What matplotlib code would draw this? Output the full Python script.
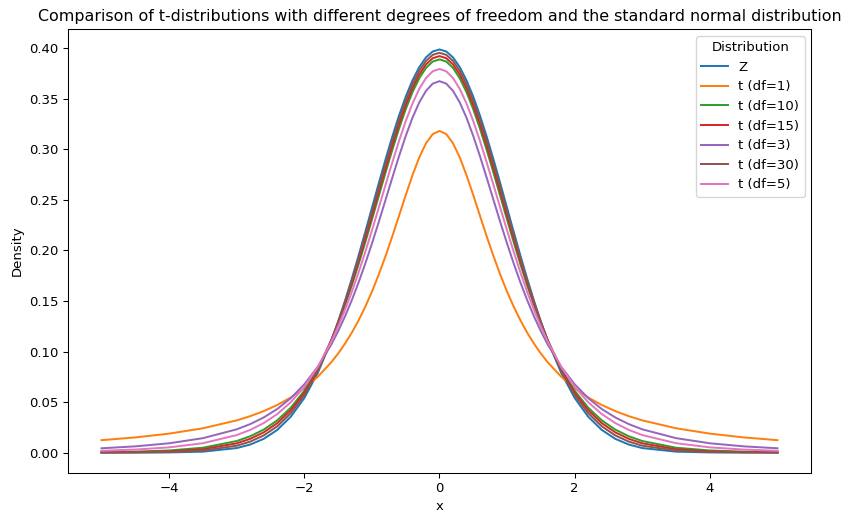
import numpy as np
import matplotlib
matplotlib.use("Agg")
import matplotlib.pyplot as plt

# x values for the right half (curves are symmetric about 0)
x_half = [0.0, 0.1, 0.2, 0.3, 0.4, 0.5, 0.6, 0.7, 0.8, 0.9, 1.0, 1.1, 1.2,
          1.3, 1.4, 1.5, 1.6, 1.8, 2.0, 2.2, 2.4, 2.6, 2.8, 3.0, 3.5, 4.0,
          4.5, 5.0]

# densities read at x_half
z_vals = [0.39894, 0.39695, 0.39104, 0.38139, 0.36827, 0.35207, 0.33322,
          0.31225, 0.28969, 0.26609, 0.24197, 0.21785, 0.19419, 0.17137,
          0.14973, 0.12952, 0.11092, 0.07895, 0.05399, 0.03547, 0.02239,
          0.01358, 0.00792, 0.00443, 0.00087, 0.00013, 0.00002, 0.00000]
t1_vals = [0.31831, 0.31516, 0.30607, 0.29203, 0.27441, 0.25465, 0.23405,
           0.21363, 0.19409, 0.17586, 0.15915, 0.14403, 0.13045, 0.11833,
           0.10754, 0.09794, 0.08941, 0.07507, 0.06366, 0.05451, 0.04709,
           0.04102, 0.03601, 0.03183, 0.02402, 0.01872, 0.01498, 0.01224]
t3_vals = [0.36755, 0.36512, 0.35794, 0.34645, 0.33128, 0.31318, 0.29301,
           0.27159, 0.24967, 0.22788, 0.20675, 0.18664, 0.16780, 0.15039,
           0.13446, 0.12002, 0.10701, 0.08496, 0.06751, 0.05382, 0.04311,
           0.03473, 0.02815, 0.02297, 0.01422, 0.00916, 0.00612, 0.00422]
t5_vals = [0.37961, 0.37734, 0.37064, 0.35983, 0.34538, 0.32792, 0.30814,
           0.28677, 0.26449, 0.24194, 0.21968, 0.19814, 0.17766, 0.15848,
           0.14074, 0.12452, 0.10982, 0.08481, 0.06509, 0.04980, 0.03809,
           0.02918, 0.02242, 0.01729, 0.00924, 0.00512, 0.00295, 0.00176]
t10_vals = [0.38911, 0.38698, 0.38066, 0.37040, 0.35658, 0.33970, 0.32033,
            0.29910, 0.27662, 0.25353, 0.23036, 0.20760, 0.18566, 0.16484,
            0.14539, 0.12745, 0.11108, 0.08312, 0.06115, 0.04438, 0.03188,
            0.02273, 0.01612, 0.01140, 0.00478, 0.00203, 0.00088, 0.00040]
t15_vals = [0.39236, 0.39027, 0.38409, 0.37403, 0.36043, 0.34376, 0.32455,
            0.30339, 0.28088, 0.25761, 0.23413, 0.21094, 0.18845, 0.16702,
            0.14689, 0.12826, 0.11123, 0.08207, 0.05921, 0.04189, 0.02914,
            0.02001, 0.01358, 0.00914, 0.00331, 0.00118, 0.00042, 0.00015]
t30_vals = [0.39563, 0.39359, 0.38754, 0.37768, 0.36432, 0.34788, 0.32885,
            0.30777, 0.28523, 0.26179, 0.23800, 0.21435, 0.19129, 0.16919,
            0.14834, 0.12896, 0.11119, 0.08071, 0.05685, 0.03893, 0.02600,
            0.01696, 0.01083, 0.00678, 0.00196, 0.00052, 0.00013, 0.00003]

# legend order as in the original (sorted labels)
labels = ['Z', 't (df=1)', 't (df=10)', 't (df=15)', 't (df=3)', 't (df=30)', 't (df=5)']
series = [z_vals, t1_vals, t10_vals, t15_vals, t3_vals, t30_vals, t5_vals]


def mirror(xh, yh):
    xh = np.array(xh)
    yh = np.array(yh)
    return np.concatenate([-xh[:0:-1], xh]), np.concatenate([yh[:0:-1], yh])


dpi = 95
fig = plt.figure(figsize=(854/dpi, 523/dpi), dpi=dpi)
ax = fig.add_axes([67.7/854, (523-472.7)/523, 743.6/854, 443.4/523])

for lab, vals in zip(labels, series):
    xs, ys = mirror(x_half, vals)
    ax.plot(xs, ys, label=lab, lw=1.5)

ax.set_title('Comparison of t-distributions with different degrees of freedom and the standard normal distribution')
ax.set_xlabel('x')
ax.set_ylabel('Density')
ax.legend(title='Distribution', loc='upper right')

plt.savefig('out.png', dpi=dpi)
